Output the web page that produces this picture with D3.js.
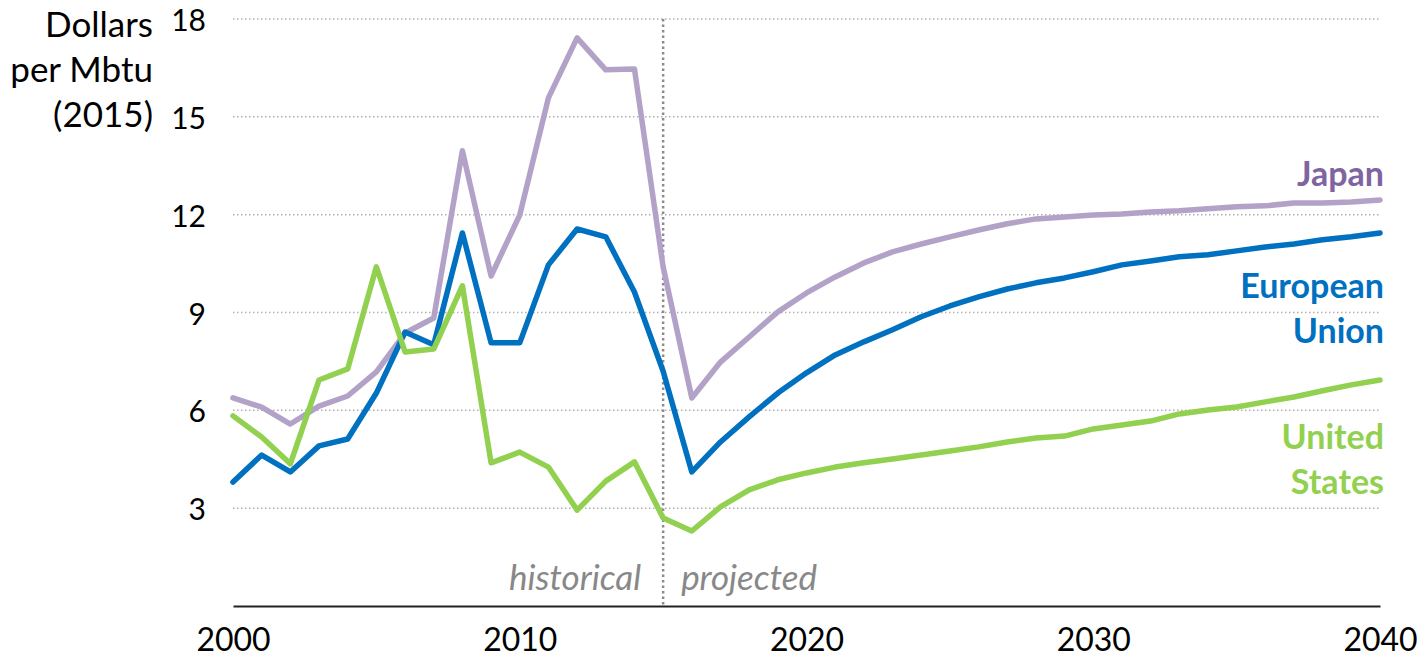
<!DOCTYPE html>
<html>
<head>
<meta charset="utf-8">
<script src="https://cdn.jsdelivr.net/npm/d3@7"></script>
<style>
  body { margin: 0; background: #fff; }
  text { font-family: Lato, "Open Sans", sans-serif; }
</style>
</head>
<body>
<div id="chart"></div>
<script>
// years 2000..2040
const years = d3.range(2000, 2041);

// Dollars per Mbtu (2015)
const japan = [6.38, 6.10, 5.58, 6.13, 6.44, 7.18, 8.37, 8.83, 13.96, 10.12,
  11.99, 15.58, 17.42, 16.44, 16.47, 10.4, 6.38, 7.48, 8.25, 9.02,
  9.60, 10.09, 10.52, 10.86, 11.10, 11.32, 11.53, 11.72, 11.87, 11.93,
  11.99, 12.02, 12.08, 12.12, 12.18, 12.24, 12.27, 12.36, 12.36, 12.39, 12.45];
const europeanUnion = [3.80, 4.63, 4.11, 4.91, 5.12, 6.53, 8.40, 8.01, 11.44, 8.07,
  8.07, 10.46, 11.56, 11.32, 9.63, 7.2, 4.11, 5.03, 5.80, 6.53,
  7.15, 7.70, 8.10, 8.47, 8.87, 9.20, 9.48, 9.72, 9.91, 10.06,
  10.25, 10.46, 10.58, 10.71, 10.77, 10.89, 11.01, 11.10, 11.23, 11.32, 11.44];
const unitedStates = [5.83, 5.18, 4.36, 6.93, 7.27, 10.40, 7.79, 7.88, 9.82, 4.39,
  4.72, 4.26, 2.94, 3.83, 4.42, 2.70, 2.30, 3.04, 3.56, 3.87,
  4.08, 4.26, 4.39, 4.51, 4.63, 4.75, 4.88, 5.03, 5.15, 5.21,
  5.43, 5.55, 5.67, 5.89, 6.01, 6.10, 6.26, 6.41, 6.60, 6.78, 6.93];

const yTicks = [3, 6, 9, 12, 15, 18];
const xTicks = [2000, 2010, 2020, 2030, 2040];
const splitYear = 2015;

const W = 1428, H = 658;
const svg = d3.select("#chart").append("svg")
  .attr("width", W).attr("height", H);

const x = d3.scaleLinear().domain([2000, 2040]).range([233, 1380]);
const y = d3.scaleLinear().domain([0, 18]).range([606, 19]);

// dotted gridlines
svg.append("g")
  .selectAll("line")
  .data(yTicks)
  .join("line")
    .attr("x1", x(2000)).attr("x2", x(2040))
    .attr("y1", d => y(d)).attr("y2", d => y(d))
    .attr("stroke", "#b0b0b0")
    .attr("stroke-width", 1.5)
    .attr("stroke-dasharray", "1.5,2.5");

// y tick labels
svg.append("g")
  .selectAll("text")
  .data(yTicks)
  .join("text")
    .attr("x", 206)
    .attr("y", d => y(d) + 12)
    .attr("text-anchor", "end")
    .attr("font-size", 30)
    .attr("fill", "#000")
    .text(d => d);

// y axis title
svg.append("text")
  .attr("text-anchor", "end")
  .attr("font-size", 35)
  .attr("fill", "#000")
  .selectAll("tspan")
  .data(["Dollars", "per Mbtu", "(2015)"])
  .join("tspan")
    .attr("x", 153)
    .attr("y", (d, i) => 37 + i * 45)
    .text(d => d);

// x axis
const xAxis = svg.append("g")
  .attr("transform", `translate(0,${y(0)})`)
  .call(d3.axisBottom(x).tickValues(xTicks).tickFormat(d3.format("d")).tickSize(0).tickPadding(22));
xAxis.select(".domain").attr("stroke", "#222").attr("stroke-width", 2);
xAxis.selectAll("text")
  .attr("font-size", 32)
  .attr("font-family", "Lato, sans-serif")
  .attr("fill", "#000");

// historical / projected divider
svg.append("line")
  .attr("x1", x(splitYear)).attr("x2", x(splitYear))
  .attr("y1", y(18)).attr("y2", y(0))
  .attr("stroke", "#8c8c8c")
  .attr("stroke-width", 2.5)
  .attr("stroke-dasharray", "2.5,3");

svg.append("text")
  .attr("x", x(splitYear) - 22).attr("y", 590)
  .attr("text-anchor", "end")
  .attr("font-size", 35).attr("font-style", "italic")
  .attr("fill", "#888")
  .text("historical");
svg.append("text")
  .attr("x", x(splitYear) + 18).attr("y", 590)
  .attr("font-size", 35).attr("font-style", "italic")
  .attr("fill", "#888")
  .text("projected");

// lines
const line = d3.line()
  .x((d, i) => x(years[i]))
  .y(d => y(d));

const series = [
  {name: "japan", values: japan, color: "#b3a2c7"},
  {name: "eu", values: europeanUnion, color: "#0070c0"},
  {name: "us", values: unitedStates, color: "#92d050"}
];

svg.append("g")
  .selectAll("path")
  .data(series)
  .join("path")
    .attr("fill", "none")
    .attr("stroke", d => d.color)
    .attr("stroke-width", 5.5)
    .attr("stroke-linejoin", "round")
    .attr("stroke-linecap", "round")
    .attr("d", d => line(d.values));

// series labels
const labels = [
  {lines: ["Japan"], y: 186, color: "#8064a2"},
  {lines: ["European", "Union"], y: 298, color: "#0070c0"},
  {lines: ["United", "States"], y: 449, color: "#92d050"}
];
labels.forEach(l => {
  svg.append("text")
    .attr("text-anchor", "end")
    .attr("font-size", 34)
    .attr("font-weight", "bold")
    .attr("fill", l.color)
    .selectAll("tspan")
    .data(l.lines)
    .join("tspan")
      .attr("x", 1384)
      .attr("y", (d, i) => l.y + i * 45)
      .text(d => d);
});
</script>
</body>
</html>
